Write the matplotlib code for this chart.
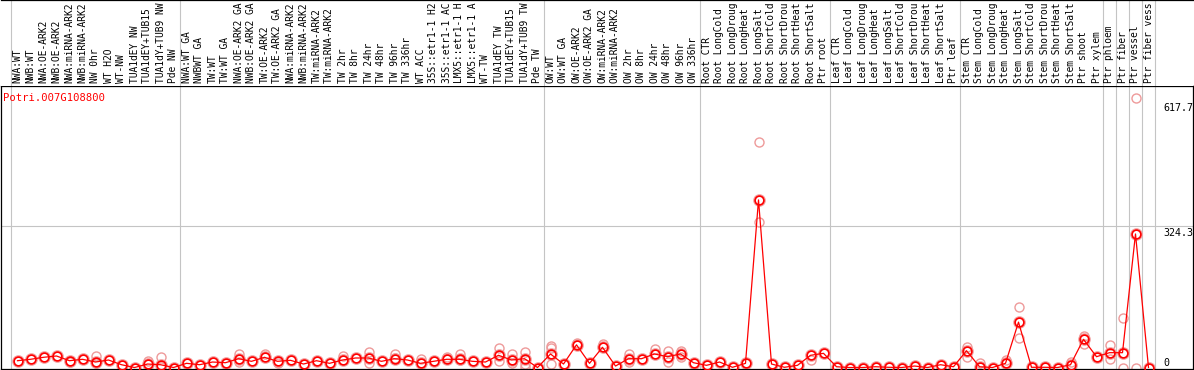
import matplotlib
matplotlib.use("Agg")
import matplotlib.pyplot as plt
import numpy as np

# ---------------- data ----------------
gene = "Potri.007G108800"

labels = [
    "NWA:WT", "NWB:WT", "NWA:OE-ARK2", "NWB:OE-ARK2", "NWA:miRNA-ARK2", "NWB:miRNA-ARK2",
    "NW 0hr", "WT H2O", "WT-NW", "TUA1dEY NW", "TUA1dEY+TUB15 NW", "TUA1dY+TUB9 NW", "Pde NW",
    "NWA:WT GA", "NWBWT GA", "TW:WT", "TW:WT GA", "NWA:OE-ARK2 GA", "NWB:OE-ARK2 GA",
    "TW:OE-ARK2", "TW:OE-ARK2 GA", "NWA:miRNA-ARK2 GA", "NWB:miRNA-ARK2 GA", "TW:miRNA-ARK2",
    "TW:miRNA-ARK2 GA", "TW 2hr", "TW 8hr", "TW 24hr", "TW 48hr", "TW 96hr", "TW 336hr",
    "WT ACC", "35S::etr1-1 H2O", "35S::etr1-1 ACC", "LMX5::etr1-1 H2O", "LMX5::etr1-1 ACC",
    "WT-TW", "TUA1dEY TW", "TUA1dEY+TUB15 TW", "TUA1dY+TUB9 TW", "Pde TW",
    "OW:WT", "OW:WT GA", "OW:OE-ARK2", "OW:OE-ARK2 GA", "OW:miRNA-ARK2", "OW:miRNA-ARK2 GA",
    "OW 2hr", "OW 8hr", "OW 24hr", "OW 48hr", "OW 96hr", "OW 336hr",
    "Root CTR", "Root LongCold", "Root LongDrought", "Root LongHeat", "Root LongSalt",
    "Root ShortCold", "Root ShortDrought", "Root ShortHeat", "Root ShortSalt", "Ptr root",
    "Leaf CTR", "Leaf LongCold", "Leaf LongDrought", "Leaf LongHeat", "Leaf LongSalt",
    "Leaf ShortCold", "Leaf ShortDrought", "Leaf ShortHeat", "Leaf ShortSalt", "Ptr leaf",
    "Stem CTR", "Stem LongCold", "Stem LongDrought", "Stem LongHeat", "Stem LongSalt",
    "Stem ShortCold", "Stem ShortDrought", "Stem ShortHeat", "Stem ShortSalt", "Ptr shoot",
    "Ptr xylem", "Ptr phloem", "Ptr fiber", "Ptr vessel", "Ptr fiber vessel",
]

group_sizes = [13, 28, 12, 10, 10, 11, 1, 1, 1, 1]

mean_values = [
    15.6, 18.8, 23.4, 26.4, 15.6, 18.8, 12.6, 17.2, 6.4, 0.0, 8.0, 6.4, 0.0,
    9.6, 6.4, 12.6, 11.0, 20.2, 14.2, 23.4, 14.2, 16.5, 8.0, 15.6, 9.6, 17.2,
    21.8, 21.8, 14.2, 20.2, 17.2, 9.6, 14.2, 18.8, 18.8, 14.2, 12.6, 28.0, 17.2, 20.2, 0.0,
    31.0, 8.0, 52.0, 9.6, 46.3, 3.4, 20.2, 20.2, 31.0, 24.8, 31.0, 11.0,
    5.0, 12.6, 0.5, 9.6, 384.0, 8.0, 0.5, 5.0, 28.0, 32.5,
    1.8, 0.0, 0.0, 1.8, 0.5, 0.0, 3.4, 0.0, 6.4, 1.8,
    38.5, 1.8, 0.0, 9.6, 104.0, 0.5, 0.5, 0.0, 6.4, 64.6, 24.8,
    34.0, 34.0, 306.0, 0.0,
]

# individual replicates that stand apart from the mean (column index, value)
rep_index = [4, 6, 6, 10, 11, 11, 17, 17, 19, 20, 25, 27, 27, 29, 29, 31, 33, 34, 34,
             37, 37, 38, 38, 39, 39, 39, 41, 41, 41, 43, 45, 47, 47, 49, 50, 50, 51, 51,
             57, 57, 61, 73, 73, 74, 76, 77, 77, 81, 82, 82, 84, 84, 85, 85, 86, 86]
rep_value = [12.0, 26.4, 9.6, 14.0, 23.4, 2.0, 31.0, 12.6, 31.0, 9.6, 27.0, 35.5, 9.6,
             31.0, 22.0, 19.0, 25.0, 31.0, 17.0, 44.7, 15.6, 31.0, 9.6, 35.5, 2.0, 8.0,
             49.3, 44.0, 8.0, 57.0, 55.0, 31.0, 12.6, 43.0, 38.5, 12.6, 38.5, 25.0,
             517.0, 333.0, 17.0, 46.0, 23.4, 9.6, 17.0, 139.0, 68.0, 12.6, 72.0, 55.0,
             52.0, 19.0, 113.0, 0.0, 617.7, 0.0]

ytick_values = [0, 324.3, 617.7]
ytick_labels = ["0", "324.3", "617.7"]

# ---------------- figure ----------------
W, H = 1194, 370
fig = plt.figure(figsize=(W / 100, H / 100), dpi=100)
mono = "DejaVu Sans Mono"

n = len(labels)
x = np.arange(n)
px_per_col = 13.0
x0_px = 17.5
xl = ((1 - x0_px) / px_per_col, (1193 - x0_px) / px_per_col)

ax = fig.add_axes([1 / W, 1 / H, 1192 / W, 283 / H])
hx = fig.add_axes([1 / W, 284 / H, 1192 / W, 86 / H])

ax.set_xlim(*xl)
ax.set_ylim(-3.4, 645.0)
hx.set_xlim(*xl)
hx.set_ylim(0, 86)

for a in (ax, hx):
    a.set_xticks([])
    a.set_yticks([])
    for s in a.spines.values():
        s.set_linewidth(0.9)
        s.set_color("black")

for s in ("left", "right", "bottom"):
    hx.spines[s].set_visible(False)

# group separators
bounds = np.concatenate([[0], np.cumsum(group_sizes)]) - 0.5
for b in bounds:
    ax.axvline(b, color="#c4c4c4", lw=0.8, zorder=1)
    hx.axvline(b, color="#c4c4c4", lw=0.8, zorder=1)

# mid grid line
ax.axhline(ytick_values[1], color="#c4c4c4", lw=0.8, zorder=1)

# header labels (the header shows at most 14 characters of each name)
max_chars = 14
for i, lab in enumerate(labels):
    hx.text(i, 3, lab[:max_chars], rotation=90, ha="center", va="bottom", fontsize=6.9,
            family=mono, color="black")

# replicates (faint)
ax.plot(x, mean_values, "o", mfc="none", mec="#f2a0a0", ms=7.5, mew=1.6, zorder=2)
ax.plot(rep_index, rep_value, "o", mfc="none", mec="#ee9a9a", ms=6.5, mew=1.0, zorder=2)

# mean line
ax.plot(x, mean_values, "-", color="#ff0000", lw=0.9, zorder=3)
ax.plot(x, mean_values, "o", mfc="none", mec="#ff0000", ms=6.3, mew=1.2, zorder=4)

# title
ax.text(2 / 1192, 0.958, gene, transform=ax.transAxes, ha="left", va="center",
        fontsize=7.6, family=mono, color="#ff0000")

# value labels on the right
xf = (1163 - 1) / 1192
offsets = {0: 0.0, 324.3: -4.0, 617.7: -11.0}
for v, t in zip(ytick_values, ytick_labels):
    va = "bottom" if v == 0 else "top"
    ax.text(xf, v + offsets[v], t, transform=ax.get_yaxis_transform(), ha="left", va=va,
            fontsize=7.2, family=mono, color="black")

fig.savefig("out.png", dpi=100)
